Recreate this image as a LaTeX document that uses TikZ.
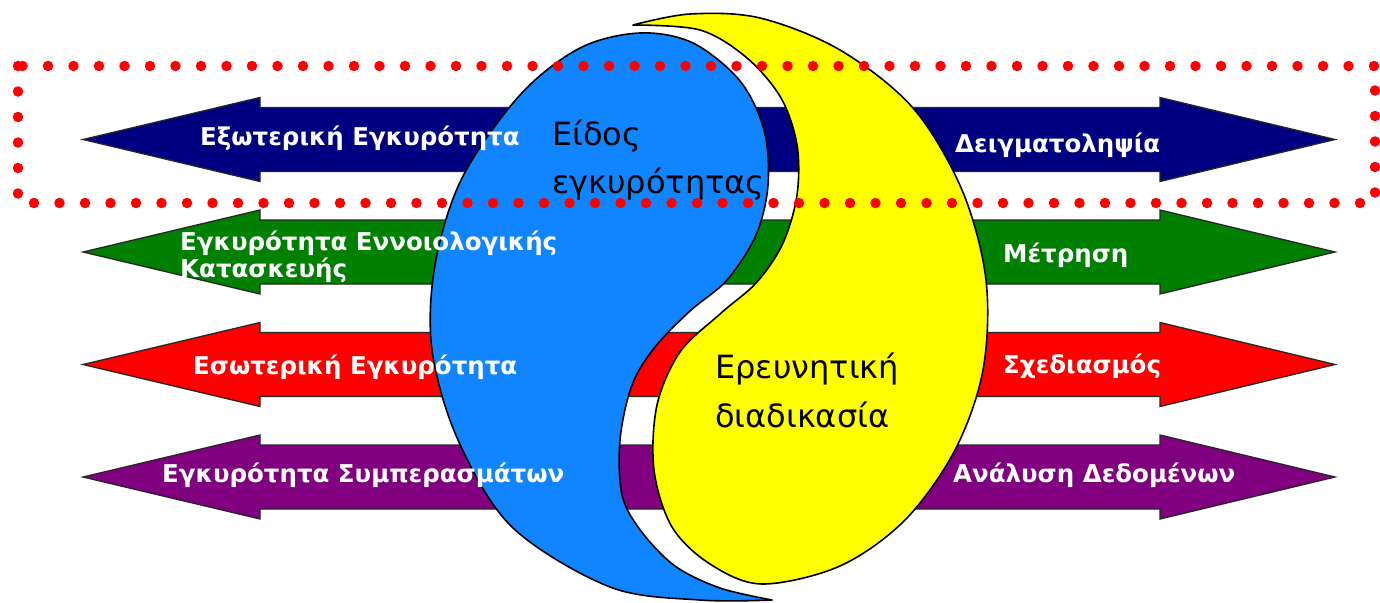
\documentclass[tikz,border=0pt]{standalone}
\usepackage{fontspec}
\setmainfont{DejaVu Sans}
\definecolor{navyC}{RGB}{0,0,128}
\definecolor{greenC}{RGB}{0,128,0}
\definecolor{redC}{RGB}{255,0,0}
\definecolor{purpleC}{RGB}{128,0,128}
\definecolor{blueC}{RGB}{17,133,255}
\definecolor{yellowC}{RGB}{255,255,0}
\newcommand\dblarrow[2]{%
  \filldraw[arr, fill=#1] (83,#2) -- (260,#2-42) -- (260,#2-32) -- (1160,#2-32) -- (1160,#2-42) -- (1335,#2) -- (1160,#2+42) -- (1160,#2+32) -- (260,#2+32) -- (260,#2+42) -- cycle;}
\begin{document}
\begin{tikzpicture}[x=1pt,y=-1pt,
  arr/.style={draw=black!85, line width=1.3pt, line join=miter},
  wtxt/.style={text=white, font=\fontsize{24.5}{28}\selectfont\bfseries, anchor=base west, inner sep=0pt},
  btxt/.style={text=black, font=\fontsize{32}{36}\selectfont, anchor=base west, inner sep=0pt},
  shp/.style={draw=black, line width=1.6pt, line join=round}]
\useasboundingbox (0,0) rectangle (1380,602);
\fill[white] (0,0) rectangle (1380,602);
% arrows
\dblarrow{navyC}{139.5}
\dblarrow{greenC}{252}
\dblarrow{redC}{364.5}
\dblarrow{purpleC}{477}
% blue shape
\filldraw[shp, fill=blueC] plot[smooth, tension=0.55] coordinates {(772,600) (700,600) (610,587) (512,527) (458,440) (432,350) (435,265) (462,178) (520,95) (580,48) (640,33) (693,43) (740,81) (764,130) (768,185) (756,235) (727,280) (690,311) (655,347) (632,385) (620,440) (622,495) (641,531) (675,566) (720,588) (772,600)} -- cycle;
% yellow shape
\filldraw[shp, fill=yellowC] plot[smooth, tension=0.55] coordinates {(633,25) (690,14) (760,18) (840,50) (913,108) (962,190) (986,280) (983,370) (955,450) (905,520) (840,566) (762,584) (710,564) (672,527) (654,470) (657,405) (680,352) (720,314) (757,282) (783,243) (797,195) (797,145) (781,98) (747,58) (700,30) (633,25)} -- cycle;
% white labels
\node[wtxt] (t1) at (200,145) {Εξωτερική Εγκυρότητα};
\node[wtxt] (t2) at (955,152) {Δειγματοληψία};
\node[wtxt] (t3) at (180,250) {Εγκυρότητα Εννοιολογικής};
\node[wtxt] (t3b) at (180,277) {Κατασκευής};
\node[wtxt] (t4) at (1003,262) {Μέτρηση};
\node[wtxt] (t5) at (193,374) {Εσωτερική Εγκυρότητα};
\node[wtxt] (t6) at (1003,373) {Σχεδιασμός};
\node[wtxt] (t7) at (162,482) {Εγκυρότητα Συμπερασμάτων};
\node[wtxt] (t8) at (953,482) {Ανάλυση Δεδομένων};
% black labels
\node[btxt] (b1) at (552,145) {Είδος};
\node[btxt] (b2) at (552,193) {εγκυρότητας};
\node[btxt] (y1) at (715,378) {Ερευνητική};
\node[btxt] (y2) at (715,427) {διαδικασία};
% dotted frame
\draw[redC, line width=10.5pt, line cap=round, dash pattern=on 0pt off 25.5pt] (18,66) rectangle (1375,203);
\end{tikzpicture}
\end{document}
